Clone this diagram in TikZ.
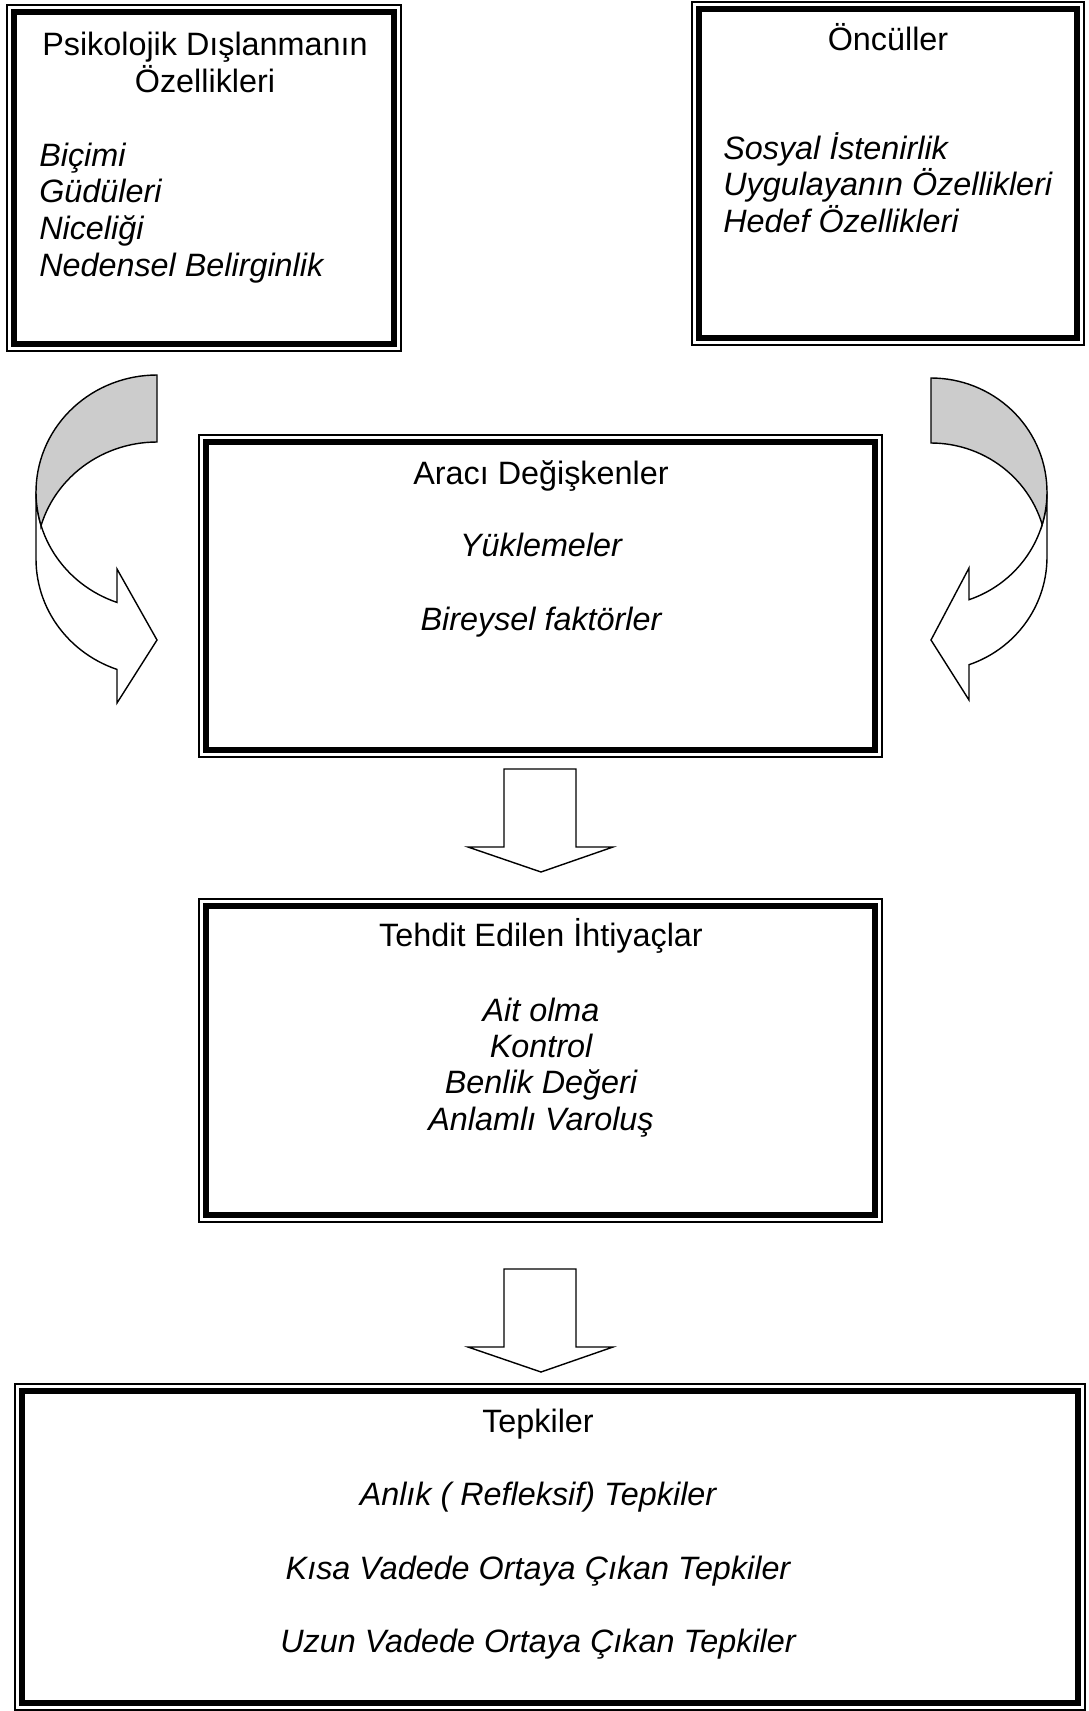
\documentclass[tikz,border=0pt]{standalone}
\usepackage{fontspec}
\setmainfont{Liberation Sans}
\def\dblframe(#1,#2)(#3,#4){\draw[line width=0.8pt] (#1,#2) rectangle (#3,#4);
	\draw[line width=4.8pt] (#1+7,#2+7) rectangle (#3-7,#4-7);}
\def\blockarrow(#1,#2){\draw[line width=1pt, fill=white] (#1-37,#2) -- (#1+35,#2) -- (#1+35,#2+78) -- (#1+72,#2+78) -- (#1,#2+103) -- (#1-73,#2+78) -- (#1-37,#2+78) -- cycle;}
\tikzset{
	boxtitle/.style={font=\fontsize{23}{28}\selectfont, inner sep=0pt, anchor=base},
	boxitem/.style={boxtitle, font=\fontsize{23}{28}\selectfont\itshape},
	boxlist/.style={boxitem, anchor=base west},
}

\begin{document}
\begin{tikzpicture}[x=0.025cm, y=-0.025cm]
			\useasboundingbox (0,0) rectangle (1088,1711);
			%%%%% FRAMES %%%%%
			
			\dblframe(7,5)(401,351)
			\dblframe(692,2)(1084,345)
			\dblframe(199,435)(882,757)
			\dblframe(199,899)(882,1222)
			\dblframe(15,1384)(1085,1710)
			
			%%%%% CURVED ARROWS %%%%%
			
			\draw[line width=1pt, fill=white] (36,492) -- (36,559)
				-- plot[domain=180:109.3, samples=30] ({157+121*cos(\x)},{559+117*sin(\x)})
				-- (117,703) -- (157,640) -- (117,569)
				-- plot[domain=109.3:180, samples=30] ({157+121*cos(\x)},{492+117*sin(\x)}) -- cycle;
			\draw[line width=1pt, fill=black!20] (157,375)
				-- plot[domain=270:163.4, samples=40] ({157+121*cos(\x)},{492+117*sin(\x)})
				-- plot[domain=196.6:270, samples=30] ({157+121*cos(\x)},{559+117*sin(\x)}) -- cycle;
			
			\draw[line width=1pt, fill=white] (1047,492) -- (1047,557)
				-- plot[domain=0:70.9, samples=30] ({931+116*cos(\x)},{557+114*sin(\x)})
				-- (969,700) -- (931,640) -- (969,568)
				-- plot[domain=70.9:0, samples=30] ({931+116*cos(\x)},{492+114*sin(\x)}) -- cycle;
			\draw[line width=1pt, fill=black!20] (931,378)
				-- plot[domain=-90:16.6, samples=40] ({931+116*cos(\x)},{492+114*sin(\x)})
				-- plot[domain=-16.6:-90, samples=30] ({931+116*cos(\x)},{557+114*sin(\x)}) -- cycle;
			
			%%%%% DOWN ARROWS %%%%%
			
			\blockarrow(541,769)
			\blockarrow(541,1269)
			
			%%%%% TEXT %%%%%
			
			\node[boxtitle] (psi1) at (205,55) {Psikolojik Dışlanmanın};
			\node[boxtitle] (psi2) at (205,92) {Özellikleri};
			\node[boxlist] (bic) at (39,166) {Biçimi};
			\node[boxlist] (gud) at (39,202) {Güdüleri};
			\node[boxlist] (nic) at (39,239) {Niceliği};
			\node[boxlist] (ned) at (39,276) {Nedensel Belirginlik};
			
			\node[boxtitle] (onc) at (888,50) {Öncüller};
			\node[boxlist] (sos) at (723,159) {Sosyal İstenirlik};
			\node[boxlist] (uyg) at (723,195) {Uygulayanın Özellikleri};
			\node[boxlist] (hed) at (723,232) {Hedef Özellikleri};
			
			\node[boxtitle] (ara) at (541,484) {Aracı Değişkenler};
			\node[boxitem] (yuk) at (541,556) {Yüklemeler};
			\node[boxitem] (bir) at (541,630) {Bireysel faktörler};
			
			\node[boxtitle] (teh) at (541,946) {Tehdit Edilen İhtiyaçlar};
			\node[boxitem] (ait) at (541,1021) {Ait olma};
			\node[boxitem] (kon) at (541,1057) {Kontrol};
			\node[boxitem] (ben) at (541,1093) {Benlik Değeri};
			\node[boxitem] (anv) at (541,1130) {Anlamlı Varoluş};
			
			\node[boxtitle] (tep) at (538,1432) {Tepkiler};
			\node[boxitem] (anl) at (538,1505) {Anlık ( Refleksif) Tepkiler};
			\node[boxitem] (kis) at (538,1579) {Kısa Vadede Ortaya Çıkan Tepkiler};
			\node[boxitem] (uzu) at (538,1652) {Uzun Vadede Ortaya Çıkan Tepkiler};
			
			%%%%% END %%%%%
\end{tikzpicture}
\end{document}
